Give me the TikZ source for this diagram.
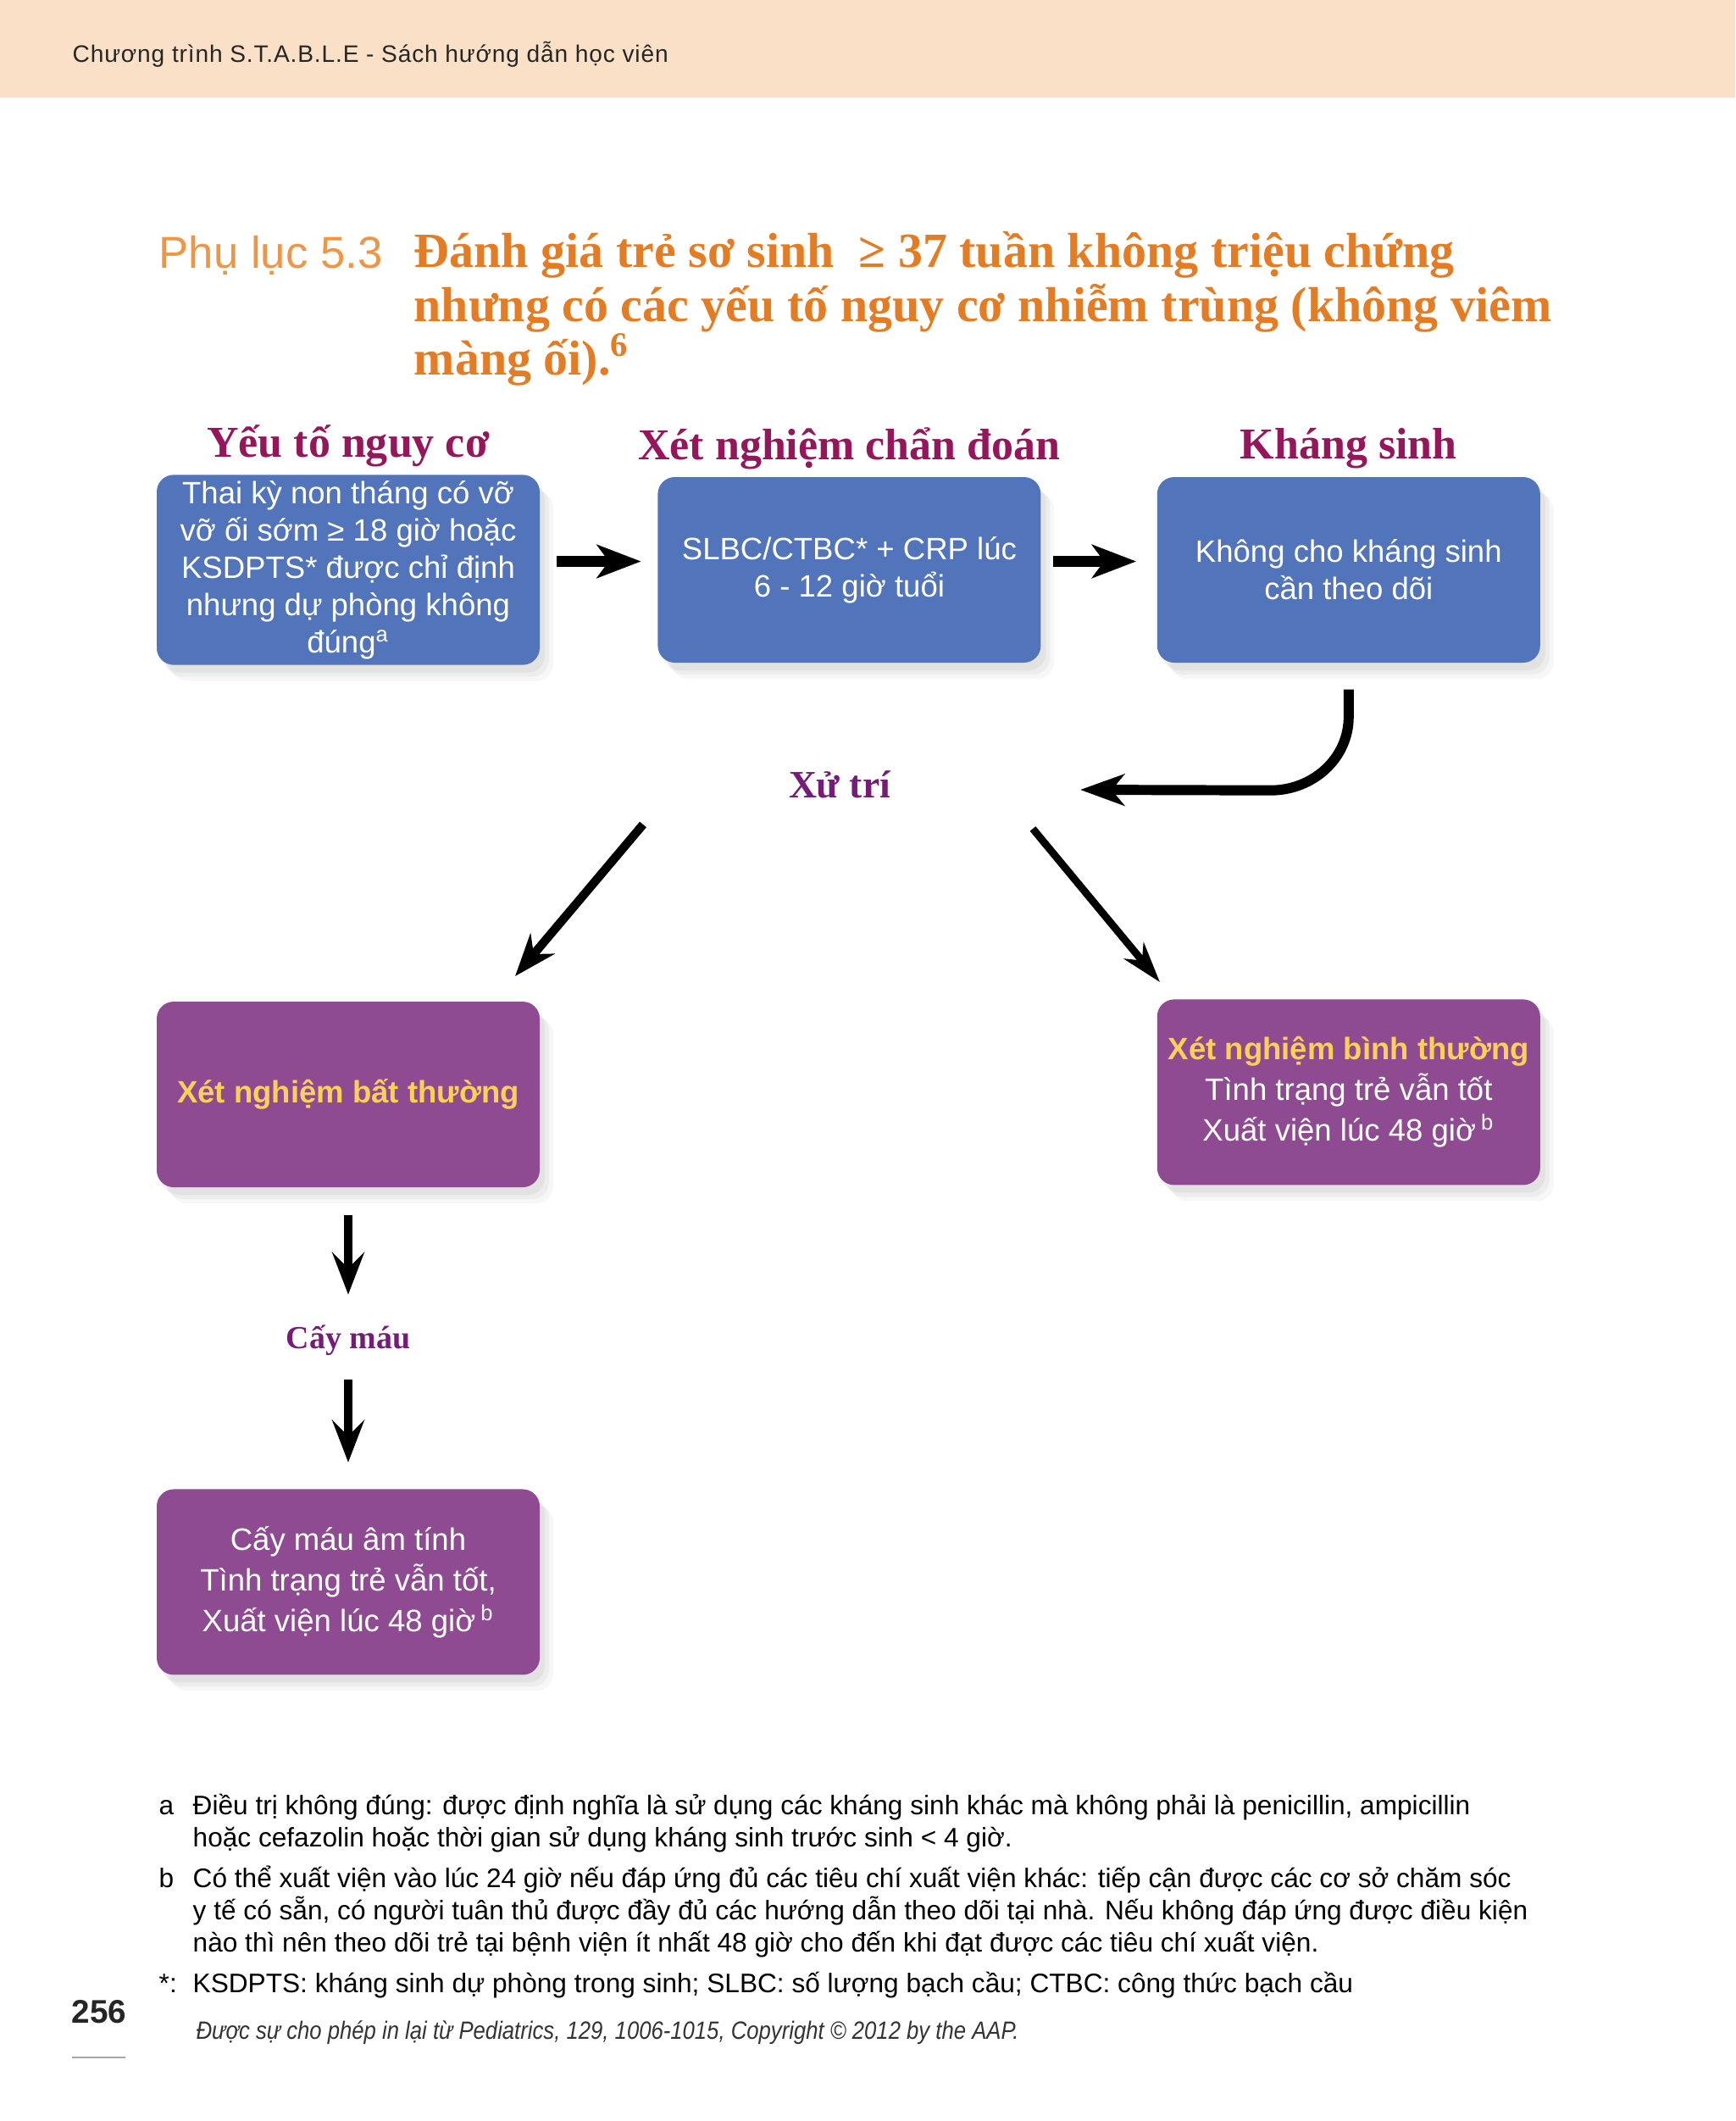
\documentclass[tikz,border=0pt]{standalone}
\usepackage{fontspec}
\setmainfont{Liberation Sans}
\newfontfamily\seriffont{Liberation Serif}
\newfontfamily\narrowfont[FakeStretch=0.87]{Liberation Sans}
\newfontfamily\hdrfont[LetterSpace=3]{Liberation Sans}
\usetikzlibrary{arrows.meta,positioning,shadows}
\definecolor{hdrbg}{RGB}{250,224,198}
\definecolor{ttlorange}{RGB}{228,124,36}
\definecolor{plorange}{RGB}{238,150,70}
\definecolor{headmag}{RGB}{150,22,92}
\definecolor{xtpurple}{RGB}{118,28,120}
\definecolor{boxblue}{RGB}{82,116,186}
\definecolor{boxpurple}{RGB}{142,75,146}
\definecolor{lblyellow}{RGB}{252,208,88}

\begin{document}
\begin{tikzpicture}[
    box/.style={rounded corners=0.2cm,minimum width=4.52cm,minimum height=2.19cm,
                align=center,text=white,inner sep=2pt,
                font=\fontsize{10.4}{12.5}\selectfont,
                drop shadow={shadow xshift=1.6mm,shadow yshift=-1.9mm,fill=black!40,opacity=0.08},
                drop shadow={shadow xshift=1.1mm,shadow yshift=-1.4mm,fill=black!40,opacity=0.1},
                drop shadow={shadow xshift=0.6mm,shadow yshift=-0.9mm,fill=black!40,opacity=0.12}},
    bluebox/.style={box,fill=boxblue},
    purbox/.style={box,fill=boxpurple,font=\fontsize{10.4}{13.6}\selectfont},
    head/.style={font=\seriffont\bfseries\fontsize{14.8}{16}\selectfont,text=headmag},
    stage/.style={font=\seriffont\bfseries\fontsize{13}{15}\selectfont,text=xtpurple},
    arr/.style={line width=3.7pt,-{Stealth[length=5.2mm,width=3.9mm,inset=1.4mm]}},
    arrcurve/.style={line width=3.4pt,-{Stealth[length=5.2mm,width=3.7mm,inset=1.5mm]}},
    arrdn/.style={line width=2.9pt,-{Stealth[length=5mm,width=3.8mm,inset=1.9mm]}},
    arrdiag/.style={line width=2.9pt,-{Stealth[length=5mm,width=3.7mm,inset=1.6mm]}},
    arrthin/.style={line width=2.5pt,-{Stealth[length=4.8mm,width=3mm,inset=1.5mm]}}
  ]
    \useasboundingbox (0,0) rectangle (20.48,-25.03);
    \fill[white] (0,0) rectangle (20.48,-25.03);
    % page header
    \fill[hdrbg] (0,0) rectangle (20.48,-1.15);
    \node[anchor=west,inner sep=0pt,font=\hdrfont\fontsize{8}{10}\selectfont,text=black!85] (hdr) at (0.85,-0.64)
      {Chương trình S.T.A.B.L.E - Sách hướng dẫn học viên};

    % title
    \node[anchor=base west,inner sep=0pt,font=\fontsize{15}{18}\selectfont,text=plorange] (pl) at (1.87,-3.17) {Phụ lục 5.3};
    \node[anchor=north west,inner sep=0pt,align=left,text=ttlorange,
          font=\seriffont\bfseries\fontsize{16.5}{18}\selectfont] (ttl) at (4.88,-2.73)
      {Đánh giá trẻ sơ sinh \ ≥ 37 tuần không triệu chứng\\
       nhưng có các yếu tố nguy cơ nhiễm trùng (không viêm\\
       màng ối).\textsuperscript{6}};

    % top row
    \node[bluebox] (b1) at (4.11,-6.725)
      {Thai kỳ non tháng có vỡ\\vỡ ối sớm ≥ 18 giờ hoặc\\KSDPTS* được chỉ định\\nhưng dự phòng không\\đúng\textsuperscript{a}};
    \node[bluebox,right=1.38cm of b1] (b2) {SLBC/CTBC* + CRP lúc\\6 - 12 giờ tuổi};
    \node[bluebox,right=1.36cm of b2] (b3) {Không cho kháng sinh\\cần theo dõi};
    \node[head] (h1) at ([yshift=3.3mm]b1.north) {Yếu tố nguy cơ};
    \node[head] (h2) at ([yshift=3.3mm]b2.north) {Xét nghiệm chẩn đoán};
    \node[head] (h3) at ([yshift=3.3mm]b3.north) {Kháng sinh};
    \draw[arr,shorten <=1.9mm,shorten >=1.9mm] ([yshift=1mm]b1.east) -- ([yshift=1mm]b2.west);
    \draw[arr,shorten <=1.4mm,shorten >=2.4mm] ([yshift=1mm]b2.east) -- ([yshift=1mm]b3.west);

    % management
    \node[stage] (xt) at (9.91,-9.26) {Xử trí};
    \coordinate (xtin) at (12.75,-9.32);
    \draw[arrcurve] ([yshift=-3.1mm]b3.south) -- ++(0,-0.32) to[out=-90,in=0] ++(-0.92,-0.87) -- (xtin);

    \node[purbox,below=3.96cm of b1] (m1) {\textcolor{lblyellow}{\bfseries Xét nghiệm bất thường}};
    \node[purbox,below=3.96cm of b3] (m2)
      {\textcolor{lblyellow}{\bfseries Xét nghiệm bình thường}\\Tình trạng trẻ vẫn tốt\\Xuất viện lúc 48 giờ\,\textsuperscript{b}};
    \coordinate (dl0) at (7.59,-9.73);
    \coordinate (dl1) at (6.08,-11.52);
    \coordinate (dr0) at (12.19,-9.78);
    \coordinate (dr1) at (13.69,-11.59);
    \draw[arrdiag] (dl0) -- (dl1);
    \draw[arrthin] (dr0) -- (dr1);

    % blood culture branch
    \node[font=\seriffont\bfseries\fontsize{10.8}{13}\selectfont,text=xtpurple,below=1.5cm of m1] (cm) {Cấy máu};
    \node[purbox,below=3.55cm of m1] (neg)
      {Cấy máu âm tính\\Tình trạng trẻ vẫn tốt,\\Xuất viện lúc 48 giờ\,\textsuperscript{b}};
    \draw[arrdn,shorten <=3.2mm,shorten >=2.4mm] (m1) -- (cm);
    \draw[arrdn,shorten <=1.6mm,shorten >=3.1mm] (cm) -- (neg);

    % notes
    \node[anchor=north west,inner sep=0pt,font=\fontsize{9}{10.8}\selectfont] (notes) at (1.87,-21.14)
      {\begin{tabular}{@{}p{4mm}@{}l@{}}
        a & Điều trị không đúng: được định nghĩa là sử dụng các kháng sinh khác mà không phải là penicillin, ampicillin\\
          & hoặc cefazolin hoặc thời gian sử dụng kháng sinh trước sinh < 4 giờ.\\[2.8pt]
        b & Có thể xuất viện vào lúc 24 giờ nếu đáp ứng đủ các tiêu chí xuất viện khác: tiếp cận được các cơ sở chăm sóc\\
          & y tế có sẵn, có người tuân thủ được đầy đủ các hướng dẫn theo dõi tại nhà. Nếu không đáp ứng được điều kiện\\
          & nào thì nên theo dõi trẻ tại bệnh viện ít nhất 48 giờ cho đến khi đạt được các tiêu chí xuất viện.\\[2.8pt]
        *: & KSDPTS: kháng sinh dự phòng trong sinh; SLBC: số lượng bạch cầu; CTBC: công thức bạch cầu
      \end{tabular}};
    \node[font=\bfseries\fontsize{11}{13}\selectfont,text=black!85] (pg) at (1.17,-23.74) {256};
    \draw[black!35,line width=0.6pt] (0.85,-24.28) -- (1.48,-24.28);
    \node[anchor=west,inner sep=0pt,font=\narrowfont\itshape\fontsize{8.4}{10}\selectfont,text=black!80] (src) at (2.31,-23.99)
      {Được sự cho phép in lại từ Pediatrics, 129, 1006-1015, Copyright © 2012 by the AAP.};
\end{tikzpicture}
\end{document}
